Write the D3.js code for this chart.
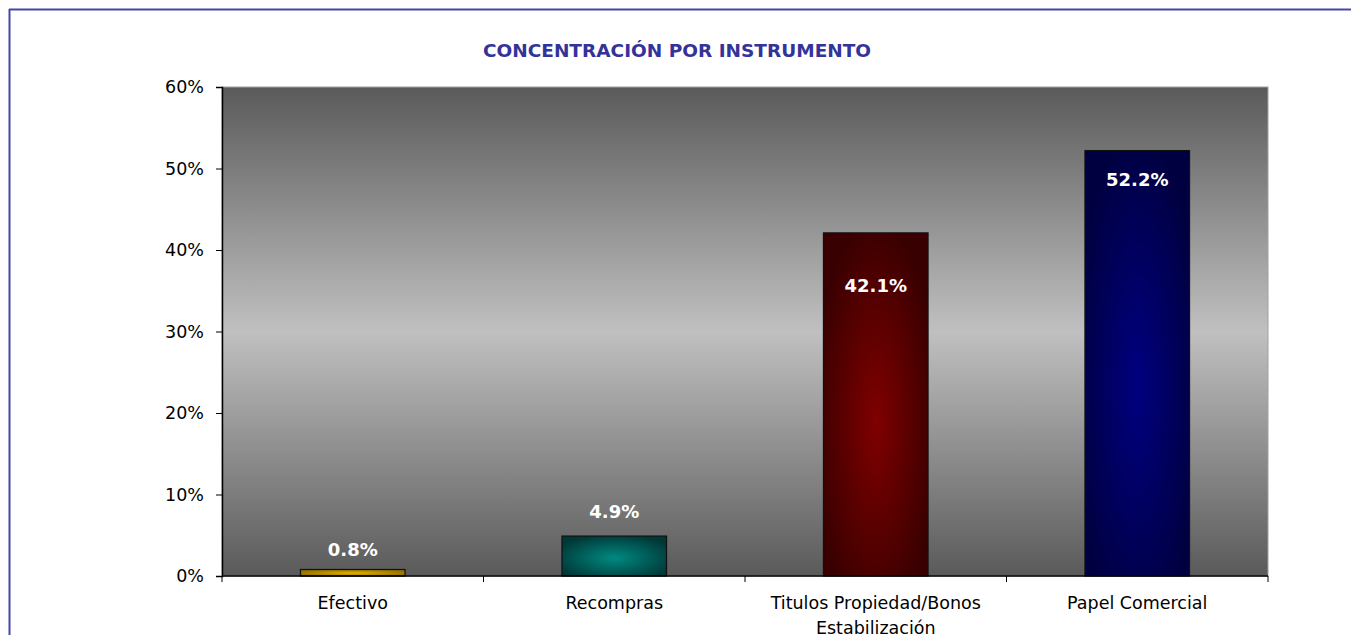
<!DOCTYPE html>
<html>
<head>
<meta charset="utf-8">
<script src="https://cdn.jsdelivr.net/npm/d3@7"></script>
<style>
  body { margin: 0; background: #fff; }
  svg text { font-family: "DejaVu Sans", Verdana, sans-serif; }
</style>
</head>
<body>
<div id="chart"></div>
<script>
// data
var categories = ["Efectivo", "Recompras", "Titulos Propiedad/Bonos Estabilización", "Papel Comercial"];
var values = [0.8, 4.9, 42.1, 52.2];
var yTicks = [0, 10, 20, 30, 40, 50, 60];

// bar colours: edge / centre
var barEdge = ["#8a6a00", "#003838", "#380000", "#000040"];
var barCenter = ["#e0b000", "#008a80", "#800000", "#000080"];
// label offsets from bar top (px, negative = above)
var labelDy = [-20, -24, 53, 29];

var svgWidth = 1351;
var svgHeight = 635;

var margin = { top: 87, right: 83, bottom: 59, left: 222 };
var width = svgWidth - margin.left - margin.right;
var height = svgHeight - margin.top - margin.bottom;

var svg = d3.select("#chart").append("svg")
  .attr("width", svgWidth)
  .attr("height", svgHeight);

var defs = svg.append("defs");

// plot background: dark - light - dark
var bg = defs.append("linearGradient")
  .attr("id", "bgGrad")
  .attr("x1", 0).attr("y1", 0).attr("x2", 0).attr("y2", 1);
bg.append("stop").attr("offset", "0%").attr("stop-color", "#5a5a5a");
bg.append("stop").attr("offset", "50%").attr("stop-color", "#c0c0c0");
bg.append("stop").attr("offset", "100%").attr("stop-color", "#5a5a5a");

values.forEach(function(v, i) {
  var g = defs.append("radialGradient")
    .attr("id", "barGrad" + i)
    .attr("cx", "50%").attr("cy", "55%").attr("r", "60%");
  g.append("stop").attr("offset", "0%").attr("stop-color", barCenter[i]);
  g.append("stop").attr("offset", "100%").attr("stop-color", barEdge[i]);
});

// outer frame (top and left lines)
svg.append("line")
  .attr("x1", 9).attr("y1", 9.5).attr("x2", svgWidth).attr("y2", 9.5)
  .attr("stroke", "#4646a8").attr("stroke-width", 2);
svg.append("line")
  .attr("x1", 9.5).attr("y1", 9).attr("x2", 9.5).attr("y2", svgHeight)
  .attr("stroke", "#4646a8").attr("stroke-width", 2);

// title
svg.append("text")
  .attr("x", 677)
  .attr("y", 57)
  .attr("text-anchor", "middle")
  .attr("font-size", "18.5px")
  .attr("font-weight", "bold")
  .attr("fill", "#33339a")
  .text("CONCENTRACIÓN POR INSTRUMENTO");

var chartGroup = svg.append("g")
  .attr("transform", `translate(${margin.left}, ${margin.top})`);

var xScale = d3.scaleBand()
  .domain(categories)
  .range([0, width])
  .paddingInner(0.6)
  .paddingOuter(0.3);

var yScale = d3.scaleLinear()
  .domain([0, 60])
  .range([height, 0]);

chartGroup.append("rect")
  .attr("width", width)
  .attr("height", height)
  .attr("fill", "url(#bgGrad)")
  .attr("stroke", "#a0a0a0")
  .attr("stroke-width", 1);

// bars
chartGroup.selectAll(".bar")
  .data(values)
  .enter()
  .append("rect")
  .attr("class", "bar")
  .attr("x", (d, i) => xScale(categories[i]))
  .attr("y", d => yScale(d))
  .attr("width", xScale.bandwidth())
  .attr("height", d => height - yScale(d))
  .attr("fill", (d, i) => `url(#barGrad${i})`)
  .attr("stroke", "#111")
  .attr("stroke-width", 1.2);

// value labels
chartGroup.selectAll(".valLabel")
  .data(values)
  .enter()
  .append("text")
  .attr("class", "valLabel")
  .attr("x", (d, i) => xScale(categories[i]) + xScale.bandwidth() / 2)
  .attr("y", (d, i) => yScale(d) + labelDy[i])
  .attr("dy", "0.35em")
  .attr("text-anchor", "middle")
  .attr("font-size", "18px")
  .attr("font-weight", "bold")
  .attr("fill", "#fff")
  .text(d => d.toFixed(1) + "%");

// y axis
var leftAxis = d3.axisLeft(yScale)
  .tickValues(yTicks)
  .tickSize(6)
  .tickFormat(d => d + "%");

var yAxis = chartGroup.append("g")
  .call(leftAxis);
yAxis.select(".domain").attr("stroke", "#000").attr("stroke-width", 1.5);
yAxis.selectAll("text")
  .attr("font-size", "17.5px")
  .attr("fill", "#000")
  .attr("x", -18);

// x axis: ticks at category boundaries
var bounds = d3.range(categories.length + 1).map(i => i * width / categories.length);
var xAxis = chartGroup.append("g")
  .attr("transform", `translate(0, ${height})`);
xAxis.append("line")
  .attr("x1", 0).attr("x2", width)
  .attr("stroke", "#000").attr("stroke-width", 1.5);
xAxis.selectAll(".xtick")
  .data(bounds)
  .enter()
  .append("line")
  .attr("class", "xtick")
  .attr("x1", d => d).attr("x2", d => d)
  .attr("y1", 0).attr("y2", 6)
  .attr("stroke", "#000");

// x labels, wrapped like the original
var wrapped = {
  "Titulos Propiedad/Bonos Estabilización": ["Titulos Propiedad/Bonos", "Estabilización"]
};
xAxis.selectAll(".xlabel")
  .data(categories)
  .enter()
  .append("text")
  .attr("class", "xlabel")
  .attr("text-anchor", "middle")
  .attr("font-size", "17.5px")
  .attr("fill", "#000")
  .each(function(d) {
    var lines = wrapped[d] || [d];
    var t = d3.select(this);
    lines.forEach(function(l, j) {
      t.append("tspan")
        .attr("x", xScale(d) + xScale.bandwidth() / 2)
        .attr("y", 33 + j * 25)
        .text(l);
    });
  });
</script>
</body>
</html>
